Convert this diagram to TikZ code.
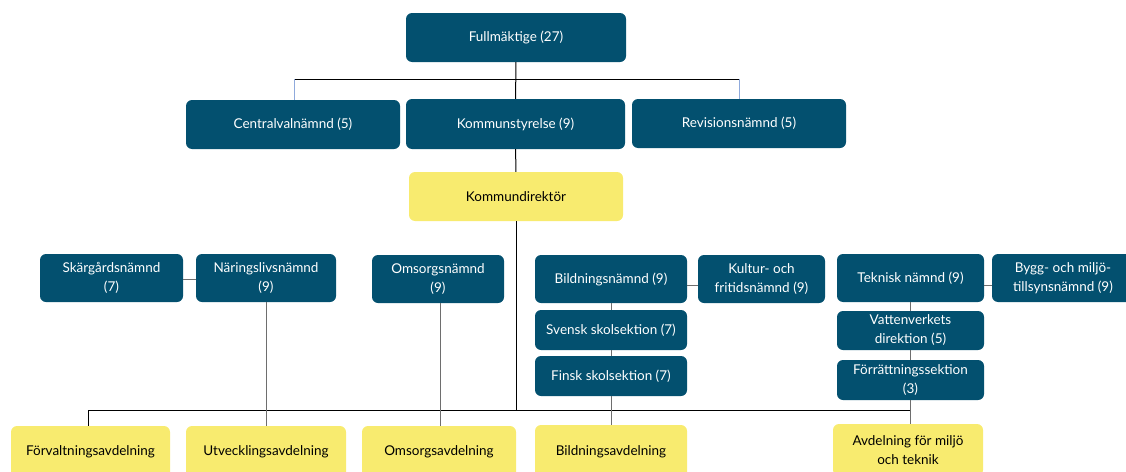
\documentclass[tikz,border=0pt]{standalone}
\usepackage{fontspec}
\setmainfont{Lato}
\definecolor{nblue}{HTML}{03506F}
\definecolor{nyellow}{HTML}{F8EB6F}
\definecolor{lblue}{HTML}{8FAADC}
\definecolor{lgray}{HTML}{6E6E6E}
\tikzset{
  bbox/.style={fill=nblue, rounded corners=6pt, text=white, align=center, inner sep=0pt, font=\fontsize{13.5}{19}\selectfont},
  ybox/.style={fill=nyellow, rounded corners=6pt, text=black, align=center, inner sep=0pt, font=\fontsize{13.5}{19}\selectfont},
  mainline/.style={draw=black, line width=1pt},
  subline/.style={draw=lgray, line width=1pt},
  blueline/.style={draw=lblue, line width=1pt},
}
\newcommand{\boxat}[7]{% style, name, x1, y1, x2, y2, text
  \node[#1, minimum width={#5-#3}, minimum height={#6-#4}] (#2) at ({(#3+#5)/2},{(#4+#6)/2}) {#7};}
\begin{document}
\begin{tikzpicture}[x=1pt,y=-1pt]
\useasboundingbox (0,0) rectangle (1126,471);
% top
\boxat{bbox}{full}{406}{13}{626}{62}{Fullmäktige (27)}
\boxat{bbox}{cent}{186}{100}{400}{149}{Centralvalnämnd (5)}
\boxat{bbox}{ks}{406}{99}{625}{149}{Kommunstyrelse (9)}
\boxat{bbox}{rev}{632}{99}{846}{148}{Revisionsnämnd (5)}
\boxat{ybox}{kd}{409}{172}{623}{221}{Kommundirektör}
% second row
\boxat{bbox}{skg}{40}{254}{183}{302}{Skärgårdsnämnd\\(7)}
\boxat{bbox}{nar}{196}{254}{336}{302}{Näringslivsnämnd\\(9)}
\boxat{bbox}{oms}{372}{255}{504}{303}{Omsorgsnämnd\\(9)}
\boxat{bbox}{bil}{535}{255}{687}{303}{Bildningsnämnd (9)}
\boxat{bbox}{kul}{698}{255}{825}{303}{Kultur- och\\fritidsnämnd (9)}
\boxat{bbox}{tek}{837}{254}{984}{302}{Teknisk nämnd (9)}
\boxat{bbox}{byg}{992}{254}{1134}{302}{Bygg- och miljö-\\tillsynsnämnd (9)}
\boxat{bbox}{sve}{535}{310}{687}{350}{Svensk skolsektion (7)}
\boxat{bbox}{fin}{535}{356}{687}{396}{Finsk skolsektion (7)}
\boxat{bbox}{vat}{837}{311}{984}{350}{Vattenverkets\\direktion (5)}
\boxat{bbox}{forr}{837}{360}{984}{400}{Förrättningssektion\\(3)}
% bottom row
\boxat{ybox}{fav}{11}{426}{170}{478}{Förvaltningsavdelning}
\boxat{ybox}{uav}{186}{426}{346}{478}{Utvecklingsavdelning}
\boxat{ybox}{oav}{362}{426}{516}{478}{Omsorgsavdelning}
\boxat{ybox}{bav}{535}{425}{687}{478}{Bildningsavdelning}
\boxat{ybox}{mav}{833}{424}{983}{476}{Avdelning för miljö\\och teknik}
% coordinates
\coordinate (hl) at (294,79);
\coordinate (hr) at (739,79);
\coordinate (bl) at (88,410);
\coordinate (bm) at (516,410);
\coordinate (br) at (910,410);
% connectors top
\draw[mainline] (full) -- (ks);
\draw[mainline] (hl) -- (hr);
\draw[blueline] (hl) -- (hl |- cent.north);
\draw[blueline] (hr) -- (hr |- rev.north);
\draw[mainline] (ks) -- (kd);
\draw[mainline] (kd.south) -- (bm);
\draw[mainline] (bl) -- (br);
\draw[mainline] (bl) -- (bl |- fav.north);
% second row
\draw[subline] (skg.east |- 0,279) -- (nar.west |- 0,279);
\draw[subline] (266,302) -- (266,426);
\draw[subline] (440,303) -- (440,426);
\draw[subline] (bil.east |- 0,285) -- (kul.west |- 0,285);
\draw[subline] (tek.east |- 0,285) -- (byg.west |- 0,285);
\draw[subline] (611,303) -- (611,310);
\draw[subline] (611,350) -- (611,356);
\draw[subline] (611,396) -- (611,425);
\draw[subline] (910,302) -- (910,311);
\draw[subline] (910,350) -- (910,360);
\draw[subline] (910,400) -- (910,424);
\end{tikzpicture}
\end{document}
